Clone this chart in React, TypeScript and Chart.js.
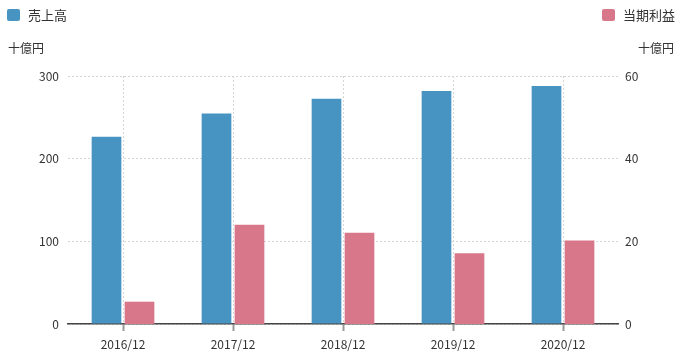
import React, { useEffect, useRef } from "react";
import { Chart, registerables } from "chart.js";

Chart.register(...registerables);

const categories = ["2016/12", "2017/12", "2018/12", "2019/12", "2020/12"];
const salesValues = [226.5, 254.5, 272.5, 282, 288];
const profitValues = [5.4, 24.0, 22.1, 17.1, 20.2];
const seriesNames = ["売上高", "当期利益"];
const unitLabel = "十億円";
const leftMax = 300;
const leftStep = 100;
const rightMax = 60;
const rightStep = 20;

const BLUE = "rgb(71,147,193)";
const PINK = "rgb(216,119,137)";
const FONT = '"Noto Sans CJK JP", "Noto Sans", sans-serif';

export default function App() {
  const canvasRef = useRef<HTMLCanvasElement | null>(null);

  useEffect(() => {
    if (!canvasRef.current) return;
    const chart = new Chart(canvasRef.current, {
      type: "bar",
      data: {
        labels: categories,
        datasets: [
          {
            label: seriesNames[0],
            data: salesValues,
            backgroundColor: BLUE,
            yAxisID: "y",
            categoryPercentage: 0.6,
            barPercentage: 0.9,
          },
          {
            label: seriesNames[1],
            data: profitValues,
            backgroundColor: PINK,
            yAxisID: "y1",
            categoryPercentage: 0.6,
            barPercentage: 0.9,
          },
        ],
      },
      options: {
        animation: false,
        responsive: true,
        maintainAspectRatio: false,
        layout: { padding: { top: 76, left: 0, right: 0, bottom: 0 } },
        plugins: {
          legend: { display: false },
          tooltip: { enabled: false },
        },
        scales: {
          x: {
            grid: {
              offset: false,
              color: "#d4d4d4",
              drawTicks: true,
              tickLength: 7,
              tickWidth: 2,
              tickColor: "#999",
              tickBorderDash: [],
            },
            border: { display: true, color: "#444", width: 1.5, dash: [2, 2] },
            ticks: {
              color: "#333",
              padding: 6,
              font: { family: FONT, size: 12 },
            },
            afterFit: (s: any) => {
              s.height = 39;
            },
          },
          y: {
            position: "left",
            min: 0,
            max: leftMax,
            grid: { color: "#d4d4d4", drawTicks: false },
            border: { display: false, dash: [2, 2] },
            ticks: {
              stepSize: leftStep,
              color: "#333",
              padding: 9,
              font: { family: FONT, size: 12 },
            },
            afterFit: (s: any) => {
              s.width = 68;
            },
          },
          y1: {
            position: "right",
            min: 0,
            max: rightMax,
            grid: { display: false, drawTicks: false },
            border: { display: false },
            ticks: {
              stepSize: rightStep,
              color: "#333",
              padding: 7,
              font: { family: FONT, size: 12 },
            },
            afterFit: (s: any) => {
              s.width = 63;
            },
          },
        },
      },
    });
    return () => chart.destroy();
  }, []);

  const textStyle: React.CSSProperties = {
    position: "absolute",
    fontFamily: FONT,
    color: "#333",
    whiteSpace: "nowrap",
  };

  return (
    <div
      style={{
        position: "fixed",
        left: 0,
        top: 0,
        width: 681,
        height: 363,
        background: "#fff",
        overflow: "hidden",
      }}
    >
      <canvas ref={canvasRef} />
      <div
        style={{
          position: "absolute",
          left: 7,
          top: 9,
          width: 13,
          height: 12,
          borderRadius: 2,
          background: BLUE,
        }}
      />
      <div style={{ ...textStyle, left: 28, top: 6, fontSize: 13, lineHeight: "18px" }}>
        {seriesNames[0]}
      </div>
      <div
        style={{
          position: "absolute",
          left: 602,
          top: 9,
          width: 13,
          height: 12,
          borderRadius: 2,
          background: PINK,
        }}
      />
      <div style={{ ...textStyle, left: 623, top: 6, fontSize: 13, lineHeight: "18px" }}>
        {seriesNames[1]}
      </div>
      <div style={{ ...textStyle, left: 8, top: 39, fontSize: 12, lineHeight: "17px" }}>
        {unitLabel}
      </div>
      <div style={{ ...textStyle, right: 7, top: 39, fontSize: 12, lineHeight: "17px" }}>
        {unitLabel}
      </div>
    </div>
  );
}
